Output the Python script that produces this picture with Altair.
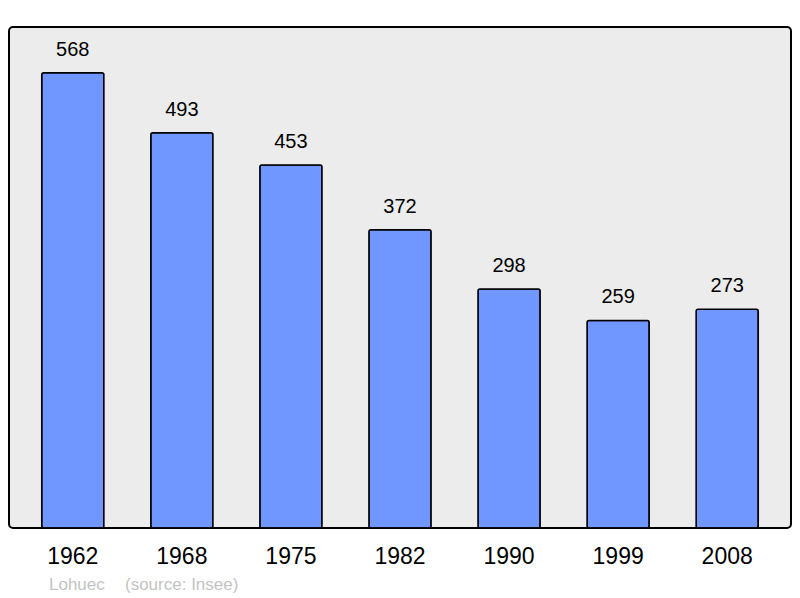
import altair as alt
import pandas as pd

years = ["1962", "1968", "1975", "1982", "1990", "1999", "2008"]
population = [568, 493, 453, 372, 298, 259, 273]
footer_texts = ["Lohuec", "(source: Insee)"]

df = pd.DataFrame({"year": years, "pop": population})

FONT = "Liberation Sans"

x_enc = alt.X("year:N", sort=years, title=None,
              scale=alt.Scale(paddingInner=0.43, paddingOuter=0.3),
              axis=alt.Axis(labelAngle=0, labelFontSize=23, labelFont=FONT,
                            labelColor="black", domain=False, ticks=False,
                            labelPadding=17, grid=False))
y_enc = alt.Y("pop:Q", title=None, scale=alt.Scale(domain=[0, 625], nice=False),
              axis=None)

bars = alt.Chart(df).mark_bar(
    color="#7096ff", stroke="black", strokeWidth=1.5, cornerRadius=2
).encode(x=x_enc, y=y_enc)

labels = alt.Chart(df).mark_text(
    baseline="bottom", dy=-13, fontSize=20, font=FONT, color="black"
).encode(x=alt.X("year:N", sort=years), y="pop:Q", text="pop:Q")

fdf = pd.DataFrame({"t": footer_texts, "xp": [40, 116]})
footer = alt.Chart(fdf).mark_text(
    align="left", baseline="alphabetic", fontSize=17, font=FONT,
    color="#c3c3c3", clip=False
).encode(x=alt.X("xp:Q", scale=None), y=alt.value(563), text="t:N")

chart = alt.layer(bars, labels, footer).properties(
    width=782, height=501,
    autosize=alt.AutoSizeParams(type="none"),
    padding={"left": 1, "top": 19, "right": 1, "bottom": 70},
).configure_view(
    fill="#ececec", stroke="black", strokeWidth=2, cornerRadius=4
)

chart.save("out.html", embed_options={"renderer": "svg", "actions": False})
